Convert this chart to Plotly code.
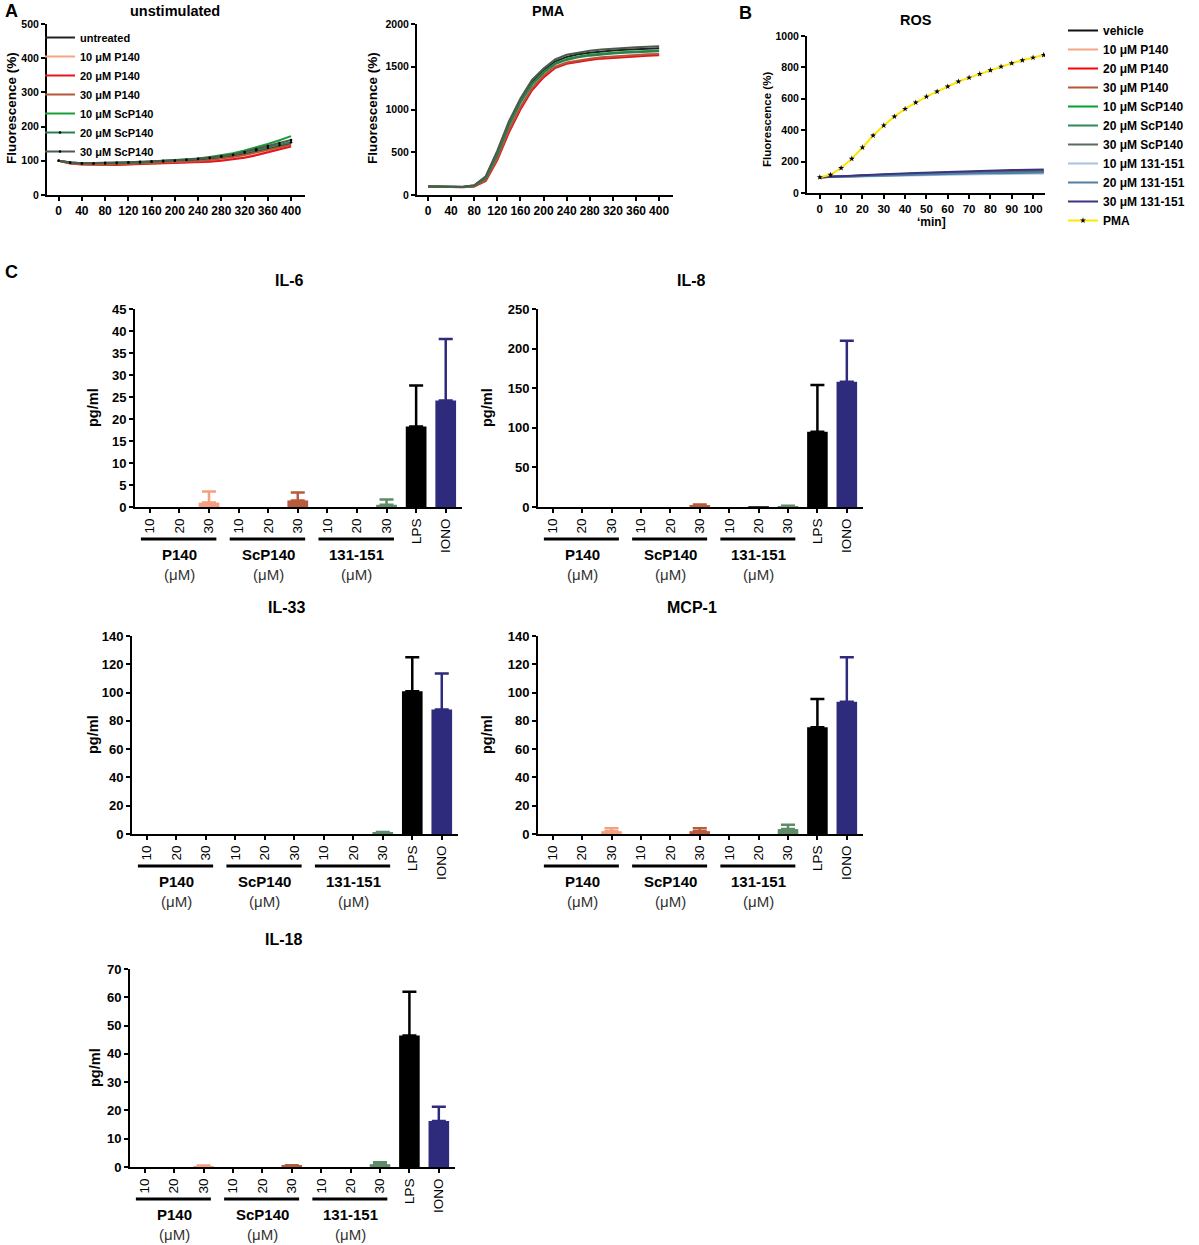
import plotly.graph_objects as go

# ---------------- data ----------------
# panel A: time course, minutes
t_a = [0, 20, 40, 60, 80, 100, 120, 140, 160, 180, 200, 220, 240, 260, 280, 300, 320, 340, 360, 380, 400]

a_names = ["untreated", "10 μM P140", "20 μM P140", "30 μM P140",
           "10 μM ScP140", "20 μM ScP140", "30 μM ScP140"]
a_colors = ["#222222", "#f4a582", "#e8141c", "#b5553a", "#1a9e3a", "#2e7d4f", "#4d5a4d"]

unstim_untreated = [100, 95, 93, 92, 92, 93, 94, 95, 96, 97, 98, 100, 102, 105, 108, 113, 120, 127, 135, 143, 150]
unstim_p140_10 = [100, 93, 90, 89, 89, 89, 90, 91, 92, 93, 94, 95, 97, 99, 102, 106, 111, 118, 126, 135, 145]
unstim_p140_20 = [100, 92, 89, 88, 88, 88, 89, 90, 90, 91, 92, 93, 95, 97, 100, 104, 109, 116, 124, 133, 142]
unstim_p140_30 = [100, 93, 90, 89, 89, 90, 91, 92, 93, 94, 95, 97, 99, 102, 106, 111, 117, 124, 131, 139, 147]
unstim_scp_10 = [100, 95, 93, 93, 93, 94, 95, 96, 98, 100, 102, 104, 107, 111, 116, 122, 130, 139, 149, 160, 172]
unstim_scp_20 = [100, 94, 92, 92, 92, 93, 94, 95, 97, 98, 100, 102, 105, 108, 112, 117, 124, 131, 138, 146, 154]
unstim_scp_30 = [100, 95, 93, 93, 94, 95, 96, 97, 98, 100, 101, 103, 106, 109, 113, 118, 126, 134, 143, 152, 161]

pma_untreated = [100, 96, 94, 95, 110, 210, 500, 840, 1110, 1320, 1460, 1560, 1615, 1645, 1665, 1680, 1690, 1698, 1705, 1710, 1715]
pma_p140_10 = [100, 95, 92, 92, 100, 170, 420, 740, 1010, 1230, 1380, 1490, 1540, 1565, 1585, 1600, 1610, 1620, 1628, 1635, 1640]
pma_p140_20 = [100, 95, 92, 92, 98, 165, 410, 730, 1000, 1225, 1375, 1485, 1535, 1560, 1580, 1595, 1605, 1615, 1622, 1628, 1635]
pma_p140_30 = [100, 95, 92, 93, 102, 175, 430, 760, 1030, 1250, 1400, 1500, 1550, 1575, 1595, 1610, 1620, 1630, 1638, 1645, 1650]
pma_scp_10 = [100, 96, 93, 94, 108, 200, 480, 820, 1090, 1300, 1440, 1540, 1590, 1620, 1640, 1655, 1665, 1672, 1678, 1684, 1690]
pma_scp_20 = [100, 96, 93, 94, 106, 195, 470, 810, 1080, 1290, 1430, 1530, 1580, 1610, 1630, 1645, 1655, 1663, 1670, 1676, 1680]
pma_scp_30 = [100, 97, 95, 96, 115, 220, 520, 860, 1130, 1345, 1480, 1585, 1640, 1668, 1688, 1702, 1712, 1720, 1727, 1733, 1740]

unstim_series = [unstim_untreated, unstim_p140_10, unstim_p140_20, unstim_p140_30,
                 unstim_scp_10, unstim_scp_20, unstim_scp_30]
pma_series = [pma_untreated, pma_p140_10, pma_p140_20, pma_p140_30,
              pma_scp_10, pma_scp_20, pma_scp_30]

# panel B: ROS
t_ros = [0, 15, 30, 45, 60, 75, 90, 105]
ros_names = ["vehicle", "10 μM P140", "20 μM P140", "30 μM P140",
             "10 μM ScP140", "20 μM ScP140", "30 μM ScP140",
             "10 μM 131-151", "20 μM 131-151", "30 μM 131-151"]
ros_colors = ["#111111", "#f4a582", "#ff0000", "#b5553a", "#00a032", "#2e8b57",
              "#5a6b5e", "#a9c1e3", "#4f7fa3", "#3b3580"]
ros_values = [
    [100, 108, 115, 121, 126, 130, 133, 136],
    [100, 107, 113, 118, 122, 126, 129, 131],
    [100, 108, 114, 120, 125, 129, 132, 135],
    [100, 108, 115, 121, 126, 131, 134, 137],
    [100, 109, 117, 123, 129, 134, 138, 141],
    [100, 109, 116, 122, 128, 133, 137, 140],
    [100, 109, 117, 124, 130, 135, 139, 142],
    [100, 105, 110, 114, 117, 120, 122, 124],
    [100, 106, 112, 117, 121, 125, 128, 130],
    [100, 111, 120, 128, 135, 141, 146, 150],
]
t_pma = [0, 5, 10, 15, 20, 25, 30, 35, 40, 45, 50, 55, 60, 65, 70, 75, 80, 85, 90, 95, 100, 105]
ros_pma = [100, 116, 159, 218, 290, 366, 430, 487, 536, 576, 614, 646, 678, 710, 735, 758, 782, 805, 826, 845, 862, 879]

# panel C: cytokines (mean, upper error)
bar_labels = ["10", "20", "30", "10", "20", "30", "10", "20", "30", "LPS", "IONO"]
bar_colors = ["#f4a07f", "#f4a07f", "#f4a07f", "#b85a3c", "#b85a3c", "#b85a3c",
              "#5e8c67", "#2f3a33", "#5e8c67", "#000000", "#2e2a7c"]
groups = ["P140", "ScP140", "131-151"]

il6_mean = [0, 0, 1.0, 0, 0, 1.5, 0, 0, 0.5, 18.3, 24.2]
il6_err = [0, 0, 2.5, 0, 0, 1.8, 0, 0, 1.2, 9.3, 14.0]
il8_mean = [0, 0, 0, 0, 0, 2.0, 0, 1.2, 1.0, 95, 158]
il8_err = [0, 0, 0, 0, 0, 1.0, 0, 0, 0.5, 59, 52]
il33_mean = [0, 0, 0, 0, 0, 0, 0, 0, 1.2, 101, 88]
il33_err = [0, 0, 0, 0, 0, 0, 0, 0, 0.3, 24, 25.5]
mcp1_mean = [0, 0, 2.0, 0, 0, 2.0, 0, 0, 3.5, 75.5, 93.5]
mcp1_err = [0, 0, 2.0, 0, 0, 2.0, 0, 0, 3.0, 20, 31.5]
il18_mean = [0, 0, 0.3, 0, 0, 0.4, 0, 0, 1.0, 46.5, 16.3]
il18_err = [0, 0, 0.2, 0, 0, 0.2, 0, 0, 0.7, 15.5, 5.0]

# ---------------- layout helpers ----------------
W, H = 1199, 1245
FONT = "Arial, Liberation Sans, sans-serif"


def fx(p):
    return p / W


def fy(p):
    return 1 - p / H


axis_style = dict(showline=True, linecolor="black", linewidth=2, ticks="outside",
                  ticklen=4, tickwidth=2, tickcolor="black", showgrid=False,
                  zeroline=False)

fig = go.Figure()
annotations = []
shapes = []

# ---------------- panel A ----------------
for i, name in enumerate(a_names):
    with_markers = i >= 5
    fig.add_trace(go.Scatter(
        x=t_a, y=unstim_series[i], name=name, legend="legend",
        mode="lines+markers" if with_markers else "lines",
        line=dict(color=a_colors[i], width=2),
        marker=dict(size=2.5, color="black"),
        xaxis="x", yaxis="y"))
    fig.add_trace(go.Scatter(
        x=t_a, y=pma_series[i], name=name, showlegend=False,
        mode="lines", line=dict(color=a_colors[i], width=2),
        xaxis="x2", yaxis="y2"))

xtick_a = dict(size=12, family=FONT, color="black", weight="bold")
ytick_a = dict(size=10.5, family=FONT, color="black", weight="bold")
fig.update_layout(
    xaxis=dict(domain=[fx(47), fx(305)], anchor="y", range=[-20, 424],
               tickvals=list(range(0, 401, 40)), tickfont=xtick_a, **axis_style),
    yaxis=dict(domain=[fy(195), fy(24)], anchor="x", range=[0, 500],
               dtick=100, tickfont=ytick_a, **axis_style),
    xaxis2=dict(domain=[fx(417), fx(673)], anchor="y2", range=[-19, 424],
                tickvals=list(range(0, 401, 40)), tickfont=xtick_a, **axis_style),
    yaxis2=dict(domain=[fy(195), fy(24)], anchor="x2", range=[0, 2000],
                dtick=500, tickfont=ytick_a, **axis_style),
)

# ---------------- panel B ----------------
for i, name in enumerate(ros_names):
    fig.add_trace(go.Scatter(
        x=t_ros, y=ros_values[i], name=name, legend="legend2",
        mode="lines", line=dict(color=ros_colors[i], width=2),
        xaxis="x3", yaxis="y3"))
fig.add_trace(go.Scatter(
    x=t_pma, y=ros_pma, name="PMA", legend="legend2",
    mode="lines+markers", line=dict(color="#ffe600", width=2),
    marker=dict(symbol="star", size=4.5, color="black"),
    xaxis="x3", yaxis="y3"))

fig.update_layout(
    xaxis3=dict(domain=[fx(807), fx(1045)], anchor="y3", range=[-6, 105.6],
                dtick=10, tickfont=dict(xtick_a, size=11.5), **axis_style),
    yaxis3=dict(domain=[fy(193), fy(36)], anchor="x3", range=[0, 1000],
                dtick=200, tickfont=ytick_a, **axis_style),
)

# ---------------- panel C ----------------
panels = [
    ("IL-6", il6_mean, il6_err, 45, 5, (135, 462), (309, 507), 93),
    ("IL-8", il8_mean, il8_err, 250, 50, (538, 863), (309, 507), 487),
    ("IL-33", il33_mean, il33_err, 140, 20, (132, 458), (636, 834), 93),
    ("MCP-1", mcp1_mean, mcp1_err, 140, 20, (538, 863), (636, 834), 487),
    ("IL-18", il18_mean, il18_err, 70, 10, (130, 455), (969, 1167), 95),
]
positions = list(range(len(bar_labels)))
tick_c = dict(size=13, family=FONT, color="black", weight="bold")

for k, (title, means, errs, ymax, dtick, (xl, xr), (yt, yb), ytx) in enumerate(panels):
    n = k + 4
    xa, ya = f"x{n}", f"y{n}"
    for j in positions:
        fig.add_trace(go.Bar(
            x=[j], y=[means[j]], width=0.7, showlegend=False,
            marker=dict(color=bar_colors[j], line=dict(width=0)),
            error_y=dict(type="data", symmetric=False, array=[errs[j]], arrayminus=[0],
                         color=bar_colors[j], thickness=2.5, width=7,
                         visible=errs[j] > 0),
            xaxis=xa, yaxis=ya))
    fig.layout[f"xaxis{n}"] = dict(
        domain=[fx(xl), fx(xr)], anchor=ya, range=[-0.5, 10.55],
        tickvals=positions, ticktext=bar_labels, tickangle=-90,
        tickfont=dict(size=13.5, family=FONT, color="black"), **axis_style)
    fig.layout[f"yaxis{n}"] = dict(
        domain=[fy(yb), fy(yt)], anchor=xa, range=[0, ymax], dtick=dtick,
        tickfont=tick_c, **axis_style)

    annotations.append(dict(text=f"<b>{title}</b>", x=fx((xl + xr) / 2 - 9), y=fy(yt - 29),
                            xref="paper", yref="paper", showarrow=False,
                            xanchor="center", yanchor="middle",
                            font=dict(size=16, family=FONT, color="black")))
    annotations.append(dict(text="<b>pg/ml</b>", x=fx(ytx), y=fy((yt + yb) / 2),
                            xref="paper", yref="paper", showarrow=False, textangle=-90,
                            xanchor="center", yanchor="middle",
                            font=dict(size=14.5, family=FONT, color="black")))
    for g, gname in enumerate(groups):
        shapes.append(dict(type="line", xref=xa, yref="paper",
                           x0=g * 3 - 0.3, x1=g * 3 + 2.25,
                           y0=fy(yb + 32), y1=fy(yb + 32),
                           line=dict(color="black", width=3)))
        annotations.append(dict(text=f"<b>{gname}</b>", x=g * 3 + 1, y=fy(yb + 47),
                                xref=xa, yref="paper", showarrow=False,
                                xanchor="center", yanchor="middle",
                                font=dict(size=15, family=FONT, color="black")))
        annotations.append(dict(text="(μM)", x=g * 3 + 1, y=fy(yb + 67),
                                xref=xa, yref="paper", showarrow=False,
                                xanchor="center", yanchor="middle",
                                font=dict(size=15, family=FONT, color="#333333")))


# ---------------- text ----------------
def label(text, x, y, size, angle=0):
    annotations.append(dict(text=text, x=fx(x), y=fy(y), xref="paper", yref="paper",
                            showarrow=False, textangle=angle,
                            xanchor="center", yanchor="middle",
                            font=dict(size=size, family=FONT, color="black")))


label("<b>A</b>", 11, 11, 18)
label("<b>B</b>", 745, 13, 18)
label("<b>C</b>", 11, 272, 18)
label("<b>unstimulated</b>", 175, 11, 14.5)
label("<b>PMA</b>", 548, 11, 14.5)
label("<b>ROS</b>", 916, 20, 14.5)
label("<b>Fluorescence (%)</b>", 11, 108, 13.5, -90)
label("<b>Fluorescence (%)</b>", 372, 108, 13.5, -90)
label("<b>Fluorescence (%)</b>", 767, 120, 11.5, -90)
label("<b>ʻmin]</b>", 932, 222, 12)

fig.update_layout(
    width=W, height=H,
    margin=dict(l=0, r=0, t=0, b=0, autoexpand=False),
    paper_bgcolor="white", plot_bgcolor="white",
    barmode="overlay",
    font=dict(family=FONT, color="black"),
    annotations=annotations, shapes=shapes,
    legend=dict(x=fx(40), y=fy(23), xanchor="left", yanchor="top",
                bgcolor="rgba(0,0,0,0)", itemwidth=30,
                font=dict(size=11, family=FONT, color="black", weight="bold")),
    legend2=dict(x=fx(1063), y=fy(16), xanchor="left", yanchor="top",
                 bgcolor="rgba(0,0,0,0)", itemwidth=30,
                 font=dict(size=12, family=FONT, color="black", weight="bold")),
)

# the page's default body margin would shift the figure by 8 px
fig.write_html("out.html", config={"displayModeBar": False},
               post_script="document.body.style.margin = '0px';")
